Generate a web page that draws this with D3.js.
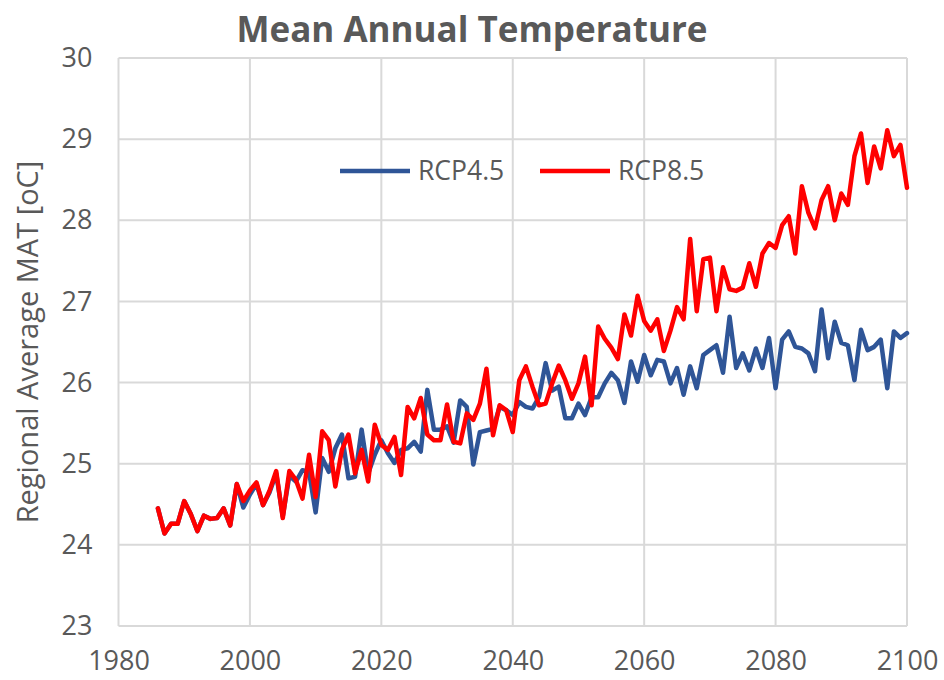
<!DOCTYPE html>
<html>
<head>
<meta charset="utf-8">
<script src="https://cdn.jsdelivr.net/npm/d3@7"></script>
<style>
  body { margin: 0; background: #fff; }
  text { font-family: "Open Sans", "Noto Sans", sans-serif; fill: #595959; }
</style>
</head>
<body>
<svg id="chart" width="944" height="680"></svg>
<script>
// Years 1986..2100
const startYear = 1986;

// RCP4.5 values
const rcp45 = [
  24.45, 24.14, 24.26, 24.26, 24.54, 24.38, 24.17, 24.36, 24.32, 24.33,
  24.45, 24.24, 24.75, 24.46, 24.62, 24.75, 24.49, 24.65, 24.88, 24.35,
  24.85, 24.78, 24.92, 24.90, 24.40, 25.07, 24.90, 25.19, 25.36, 24.82,
  24.84, 25.42, 24.88, 25.11, 25.29, 25.13, 25.01, 25.17, 25.19, 25.27,
  25.15, 25.91, 25.42, 25.42, 25.46, 25.26, 25.78, 25.70, 24.99, 25.39,
  25.41, 25.43, 25.70, 25.66, 25.60, 25.76, 25.70, 25.68, 25.82, 26.24,
  25.90, 25.95, 25.56, 25.56, 25.74, 25.60, 25.82, 25.82, 25.99, 26.12,
  26.03, 25.75, 26.26, 26.01, 26.34, 26.09, 26.28, 26.26, 25.99, 26.18,
  25.85, 26.20, 25.93, 26.34, 26.40, 26.46, 26.12, 26.81, 26.18, 26.36,
  26.15, 26.42, 26.18, 26.55, 25.93, 26.53, 26.63, 26.44, 26.42, 26.36,
  26.14, 26.90, 26.30, 26.75, 26.49, 26.46, 26.03, 26.65, 26.40, 26.44,
  26.53, 25.93, 26.63, 26.55, 26.61
];

// RCP8.5 values
const rcp85 = [
  24.45, 24.14, 24.26, 24.26, 24.54, 24.38, 24.17, 24.36, 24.32, 24.33,
  24.45, 24.24, 24.75, 24.54, 24.67, 24.77, 24.49, 24.67, 24.91, 24.33,
  24.91, 24.80, 24.57, 25.11, 24.59, 25.40, 25.29, 24.72, 25.17, 25.36,
  24.88, 25.17, 24.78, 25.48, 25.23, 25.17, 25.33, 24.86, 25.70, 25.56,
  25.81, 25.36, 25.29, 25.29, 25.73, 25.27, 25.25, 25.62, 25.54, 25.74,
  26.17, 25.35, 25.72, 25.66, 25.39, 26.03, 26.20, 25.95, 25.72, 25.74,
  25.99, 26.21, 26.03, 25.80, 25.99, 26.32, 25.72, 26.69, 26.54, 26.43,
  26.29, 26.84, 26.58, 27.07, 26.76, 26.64, 26.78, 26.39, 26.64, 26.93,
  26.78, 27.77, 26.88, 27.52, 27.54, 26.88, 27.42, 27.15, 27.13, 27.17,
  27.47, 27.18, 27.59, 27.72, 27.66, 27.94, 28.05, 27.59, 28.42, 28.09,
  27.90, 28.25, 28.42, 28.00, 28.33, 28.19, 28.79, 29.07, 28.46, 28.91,
  28.64, 29.11, 28.79, 28.93, 28.40
];

const xTicks = [1980, 2000, 2020, 2040, 2060, 2080, 2100];
const yTicks = [23, 24, 25, 26, 27, 28, 29, 30];

const seriesNames = ["RCP4.5", "RCP8.5"];
const seriesColors = ["#2f5597", "#ff0000"];

const svg = d3.select("#chart");

const x = d3.scaleLinear().domain([1980, 2100]).range([118.5, 907]);
const y = d3.scaleLinear().domain([23, 30]).range([626, 58]);

// Gridlines
const grid = svg.append("g").attr("class", "grid");
grid.selectAll("line.v")
  .data(xTicks)
  .enter()
  .append("line")
  .attr("class", "v")
  .attr("x1", (d) => x(d))
  .attr("x2", (d) => x(d))
  .attr("y1", y(30))
  .attr("y2", y(23))
  .attr("stroke", "#d9d9d9")
  .attr("stroke-width", 2);

grid.selectAll("line.h")
  .data(yTicks)
  .enter()
  .append("line")
  .attr("class", "h")
  .attr("x1", x(1980))
  .attr("x2", x(2100))
  .attr("y1", (d) => y(d))
  .attr("y2", (d) => y(d))
  .attr("stroke", "#d9d9d9")
  .attr("stroke-width", 2);

// Axes (labels only, lines drawn as grid)
const xAxis = svg.append("g")
  .attr("transform", `translate(0,${y(23)})`)
  .call(d3.axisBottom(x).tickValues(xTicks).tickFormat(d3.format("d")).tickSize(0).tickPadding(25));
xAxis.select(".domain").remove();
xAxis.selectAll("text")
  .style("font-size", "27px")
  .attr("fill", "#595959");

const yAxis = svg.append("g")
  .attr("transform", `translate(${x(1980)},0)`)
  .call(d3.axisLeft(y).tickValues(yTicks).tickFormat(d3.format("d")).tickSize(0).tickPadding(26));
yAxis.select(".domain").remove();
yAxis.selectAll("text")
  .style("font-size", "27px")
  .attr("fill", "#595959");

// Lines
const years = rcp45.map((d, i) => startYear + i);
const line = d3.line()
  .x((d, i) => x(years[i]))
  .y((d) => y(d));

[rcp45, rcp85].forEach((values, k) => {
  svg.append("path")
    .datum(values)
    .attr("d", line)
    .attr("fill", "none")
    .attr("stroke", seriesColors[k])
    .attr("stroke-width", 4.5)
    .attr("stroke-linejoin", "round")
    .attr("stroke-linecap", "round");
});

// Legend
const legend = svg.append("g").attr("class", "legend");
const legendX = [340, 540];
seriesNames.forEach((name, k) => {
  legend.append("line")
    .attr("x1", legendX[k])
    .attr("x2", legendX[k] + 70)
    .attr("y1", 171)
    .attr("y2", 171)
    .attr("stroke", seriesColors[k])
    .attr("stroke-width", 4.5);
  legend.append("text")
    .attr("x", legendX[k] + 78)
    .attr("y", 171)
    .attr("dy", "0.35em")
    .style("font-size", "26.5px")
    .text(name);
});

// Title
svg.append("text")
  .attr("x", 472)
  .attr("y", 42)
  .attr("text-anchor", "middle")
  .style("font-size", "35px")
  .style("font-weight", "bold")
  .text("Mean Annual Temperature");

// Y axis title
svg.append("text")
  .attr("transform", `translate(38,${(y(23) + y(30)) / 2}) rotate(-90)`)
  .attr("text-anchor", "middle")
  .style("font-size", "29px")
  .text("Regional Average MAT [oC]");
</script>
</body>
</html>
